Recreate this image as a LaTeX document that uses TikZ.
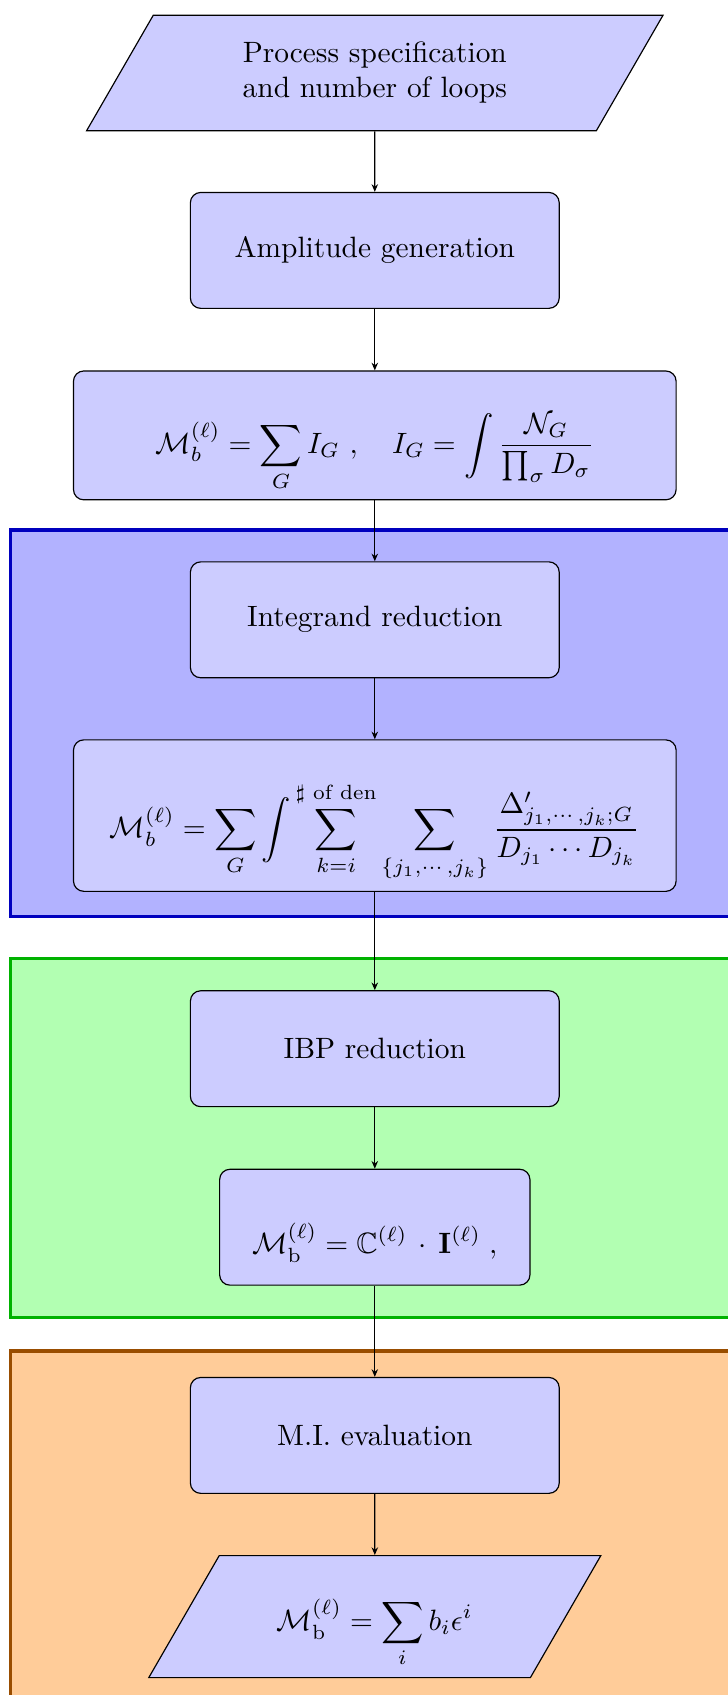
\documentclass[tikz,border=0pt]{standalone}
\usepackage{amsmath,amssymb}
\usetikzlibrary{shapes.geometric,arrows.meta}
\definecolor{bluebd}{RGB}{0,0,190}
\definecolor{greenbd}{RGB}{0,178,0}
\definecolor{orangebd}{RGB}{153,77,0}
\begin{document}
\begin{tikzpicture}[x=0.34pt,y=-0.34pt,
  stepbox/.style={draw=black, fill=blue!20, rounded corners=3.5pt, minimum width=125.4pt, minimum height=39.4pt, align=center, inner sep=2pt},
  iobox/.style={trapezium, trapezium left angle=60, trapezium right angle=120, trapezium stretches body=true, draw=black, fill=blue!20, inner xsep=2pt, align=center},
  link/.style={draw=black, -{Stealth[length=2.6pt,width=2.2pt]}},
  region/.style={line width=1.1pt}]
\useasboundingbox (0,0) rectangle (728,1695);
% background regions
\draw[region, draw=bluebd, fill=blue!30] (10.8,530) rectangle (780,916.2);
\draw[region, draw=greenbd, fill=green!30] (10.8,958.4) rectangle (780,1317.5);
\draw[region, draw=orangebd, fill=orange!40] (10.8,1351) rectangle (780,1760);
% nodes
\node[iobox, minimum width=196pt, text height=14.5pt, text depth=9.5pt, inner ysep=7.65pt] (spec) at (374.8,73.0)
  {\begin{tabular}{@{}c@{}}Process specification\\and number of loops\end{tabular}};
\node[stepbox] (amp) at (374.8,250.4) {Amplitude generation};
\node[stepbox, minimum width=204.9pt, minimum height=43.8pt, text height=13pt, text depth=1pt] (f1) at (374.8,435.4)
  {$\displaystyle \mathcal{M}_b^{(\ell)} = \sum_G I_G\ , \quad I_G = \int \frac{\mathcal{N}_G}{\prod_\sigma D_\sigma}$};
\node[stepbox] (ir) at (374.8,619.8) {Integrand reduction};
\node[stepbox, minimum width=204.9pt, minimum height=51.5pt, text height=16pt, text depth=1.2pt] (f2) at (374.8,815.6)
  {$\displaystyle \mathcal{M}_b^{(\ell)} = \sum_G \int \sum_{k=i}^{\sharp\text{ of den}} \sum_{\{j_1,\cdots,j_k\}} \frac{\Delta'_{j_1,\cdots,j_k;G}}{D_{j_1}\cdots D_{j_k}}$};
\node[stepbox] (ibp) at (374.8,1048.7) {IBP reduction};
\node[stepbox, minimum width=105.5pt, text height=19pt, text depth=1pt] (f3) at (374.8,1227.2)
  {$\displaystyle \mathcal{M}_{\mathrm{b}}^{(\ell)} = \mathbb{C}^{(\ell)} \,\cdot\, \mathbf{I}^{(\ell)}\;,$};
\node[stepbox] (mi) at (374.8,1435.4) {M.I. evaluation};
\node[iobox, minimum width=153.7pt, text height=10pt, text depth=0.8pt, inner ysep=15.35pt] (res) at (374.8,1616.6)
  {$\displaystyle \mathcal{M}_{\mathrm{b}}^{(\ell)} = \sum_i b_i \epsilon^i$};
% connectors
\draw[link] (spec) -- (amp);
\draw[link] (amp) -- (f1);
\draw[link] (f1) -- (ir);
\draw[link] (ir) -- (f2);
\draw[link] (f2) -- (ibp);
\draw[link] (ibp) -- (f3);
\draw[link] (f3) -- (mi);
\draw[link] (mi) -- (res);
\end{tikzpicture}
\end{document}
